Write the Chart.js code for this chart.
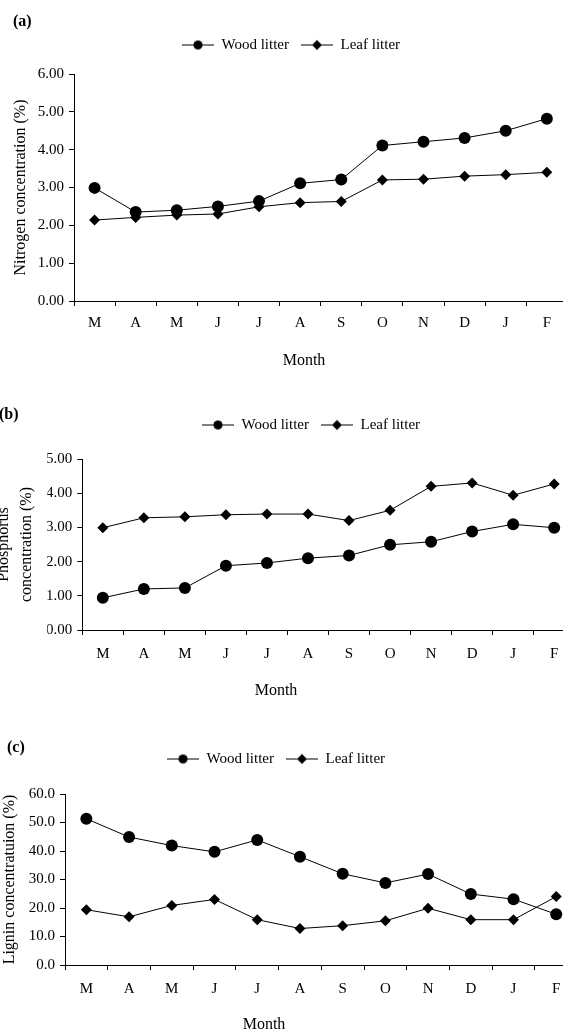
<!DOCTYPE html>
<html>
<head>
<meta charset="utf-8">
<script src="https://cdn.jsdelivr.net/npm/chart.js@4.4.1/dist/chart.umd.min.js"></script>
<style>
  html, body { margin: 0; padding: 0; background: #fff; overflow: hidden; width: 563px; height: 1032px; }
  canvas { position: absolute; }
</style>
</head>
<body>
<canvas id="chartA" width="580" height="385" style="left:0px;top:0px"></canvas>
<canvas id="chartB" width="590" height="320" style="left:0px;top:385px"></canvas>
<canvas id="chartC" width="610" height="327" style="left:-26px;top:705px"></canvas>
<script>
// months, March to February
const months = ['M', 'A', 'M', 'J', 'J', 'A', 'S', 'O', 'N', 'D', 'J', 'F'];
const seriesNames = ['Wood litter', 'Leaf litter'];

// (a) nitrogen %
const nitrogenWood = [2.99, 2.35, 2.40, 2.50, 2.64, 3.11, 3.21, 4.11, 4.21, 4.31, 4.50, 4.82];
const nitrogenLeaf = [2.14, 2.21, 2.27, 2.30, 2.49, 2.60, 2.63, 3.20, 3.22, 3.30, 3.34, 3.40];

// (b) phosphorus %
const phosphorusWood = [0.94, 1.20, 1.23, 1.88, 1.96, 2.10, 2.18, 2.49, 2.58, 2.88, 3.09, 2.99];
const phosphorusLeaf = [2.99, 3.28, 3.31, 3.37, 3.39, 3.39, 3.20, 3.50, 4.20, 4.30, 3.94, 4.27];

// (c) lignin %
const ligninWood = [51.3, 44.9, 41.9, 39.7, 43.9, 38.0, 32.0, 28.8, 31.9, 24.9, 23.1, 17.8];
const ligninLeaf = [19.4, 16.9, 20.9, 23.0, 15.9, 12.8, 13.8, 15.5, 19.9, 15.9, 15.9, 24.0];

// y axis ranges / tick steps
const nitrogenAxis = [0, 6, 1];
const phosphorusAxis = [0, 5, 1];
const ligninAxis = [0, 60, 10];

Chart.defaults.font.family = '"Liberation Serif", "Times New Roman", serif';
Chart.defaults.font.size = 15;
Chart.defaults.color = '#000';

// little line+marker pictures for the legend
function legendIcon(style) {
  const c = document.createElement('canvas');
  c.width = 32; c.height = 13;
  const g = c.getContext('2d');
  g.strokeStyle = '#000';
  g.lineWidth = 1;
  g.beginPath(); g.moveTo(0, 6.5); g.lineTo(32, 6.5); g.stroke();
  g.fillStyle = '#000';
  g.beginPath();
  if (style === 'circle') {
    g.arc(16, 6.5, 4.6, 0, Math.PI * 2);
  } else {
    g.moveTo(11, 6.5); g.lineTo(16, 1.5); g.lineTo(21, 6.5); g.lineTo(16, 11.5); g.closePath();
  }
  g.fill();
  return c;
}
const icons = [legendIcon('circle'), legendIcon('diamond')];

// panel letter and the "Month" caption
const panelText = {
  id: 'panelText',
  afterDraw(chart, args, opts) {
    const ctx = chart.ctx;
    ctx.save();
    ctx.fillStyle = '#000';
    ctx.textBaseline = 'middle';
    ctx.textAlign = 'left';
    ctx.font = 'bold 16px "Liberation Serif"';
    ctx.fillText(opts.label, opts.labelX, opts.labelY);
    ctx.textAlign = 'center';
    ctx.font = '16px "Liberation Serif"';
    ctx.fillText(opts.xTitle, opts.xTitleX, opts.xTitleY);
    ctx.restore();
  }
};

function makeChart(id, wood, leaf, axis, decimals, yTitle, p) {
  return new Chart(document.getElementById(id), {
    type: 'line',
    data: {
      labels: months,
      datasets: [
        {
          label: seriesNames[0], data: wood,
          borderColor: '#000', backgroundColor: '#000', borderWidth: 1,
          pointStyle: 'circle', pointRadius: 6, pointBorderWidth: 0,
          pointBackgroundColor: '#000', tension: 0
        },
        {
          label: seriesNames[1], data: leaf,
          borderColor: '#000', backgroundColor: '#000', borderWidth: 1,
          pointStyle: 'rectRot', pointRadius: 5.5, pointBorderWidth: 0,
          pointBackgroundColor: '#000', tension: 0
        }
      ]
    },
    options: {
      responsive: false,
      animation: false,
      layout: { padding: p.pad },
      plugins: {
        title: { display: false },
        tooltip: { enabled: false },
        legend: {
          position: 'top',
          labels: {
            usePointStyle: true,
            pointStyleWidth: 32,
            padding: 12,
            color: '#000',
            font: { size: 15 },
            generateLabels(chart) {
              const items = Chart.defaults.plugins.legend.labels.generateLabels(chart);
              items.forEach((it, i) => { it.pointStyle = icons[i]; });
              return items;
            }
          }
        },
        panelText: p.text
      },
      scales: {
        x: {
          offset: true,
          grid: { offset: true, drawOnChartArea: false, tickLength: 5, color: '#000' },
          border: { color: '#000' },
          ticks: { padding: p.xPad, maxRotation: 0, autoSkip: false },
          afterFit(s) { s.height = 40; }
        },
        spacer: {
          type: 'category',
          position: 'top',
          grid: { display: false },
          border: { display: false },
          ticks: { display: false },
          afterFit(s) { s.height = p.spacer; }
        },
        y: {
          min: axis[0], max: axis[1],
          grid: { drawOnChartArea: false, tickLength: 5, color: '#000' },
          border: { color: '#000' },
          ticks: { stepSize: axis[2], padding: 5, callback: v => v.toFixed(decimals) },
          title: {
            display: true, text: yTitle,
            font: { size: 16, lineHeight: p.titleLH || 1.2 },
            padding: { top: p.titlePad, bottom: 0 }
          },
          afterFit(s) { s.width = p.yWidth; }
        }
      }
    },
    plugins: [panelText]
  });
}

makeChart('chartA', nitrogenWood, nitrogenLeaf, nitrogenAxis, 2, 'Nitrogen concentration (%)', {
  pad: { left: 14.6, right: 12.6, top: 25.5, bottom: 44 },
  spacer: 11.5, yWidth: 59.4, titlePad: -3.6, xPad: 8.4,
  text: { label: '(a)', labelX: 13, labelY: 22, xTitle: 'Month', xTitleX: 304, xTitleY: 361 }
});

makeChart('chartB', phosphorusWood, phosphorusLeaf, phosphorusAxis, 2, ['Phosphorus', 'concentration (%)'], {
  pad: { left: 47.3, right: 15.3, top: 20.5, bottom: 35 },
  spacer: 16.5, yWidth: 35, titlePad: -54.5, titleLH: 1.4, xPad: 10.4,
  text: { label: '(b)', labelX: -1, labelY: 30, xTitle: 'Month', xTitleX: 276, xTitleY: 306 }
});

makeChart('chartC', ligninWood, ligninLeaf, ligninAxis, 1, 'Lignin concentratuion (%)', {
  pad: { left: 0.4, right: 6.4, top: 34.5, bottom: 27 },
  spacer: 17.5, yWidth: 90.6, titlePad: 26, xPad: 10.4,
  text: { label: '(c)', labelX: 33, labelY: 43, xTitle: 'Month', xTitleX: 290, xTitleY: 320 }
});
</script>
</body>
</html>
